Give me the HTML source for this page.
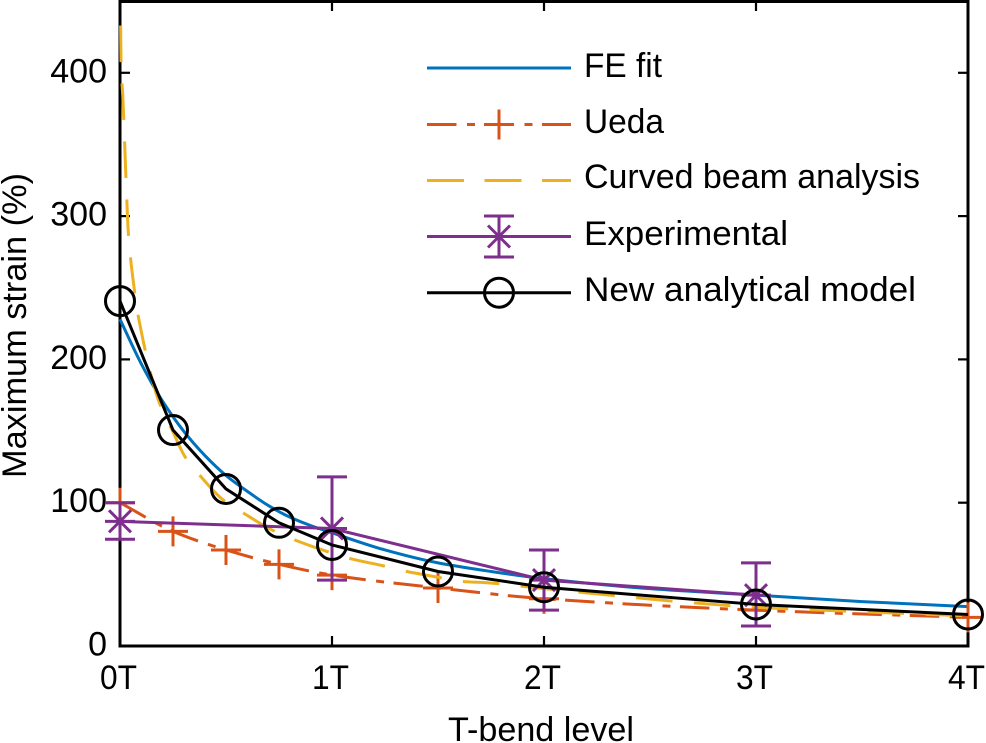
<!DOCTYPE html>
<html lang="en">
<head>
<meta charset="utf-8">
<title>Maximum strain vs T-bend level</title>
<style>
html,body{margin:0;padding:0;background:#fff;width:986px;height:743px;overflow:hidden}
svg{display:block}
text{font-family:"Liberation Sans",sans-serif;font-size:34px;fill:#000}
</style>
</head>
<body>
<svg id="chart" xmlns="http://www.w3.org/2000/svg" width="986" height="743" viewBox="0 0 986 743">
  <g id="axes"></g>
  <g id="series"></g>
  <text transform="translate(26,325.5) rotate(-90)" text-anchor="middle" textLength="305" lengthAdjust="spacingAndGlyphs">Maximum strain (%)</text>
  <text x="541" y="741" text-anchor="middle" textLength="186" lengthAdjust="spacingAndGlyphs">T-bend level</text>
  <g>
    <g>
      <line x1="427" x2="571" y1="68" y2="68" stroke="#0072BD" stroke-width="3"/>
      <text x="584" y="77" textLength="78" lengthAdjust="spacingAndGlyphs">FE fit</text>
    </g>
    <g>
      <line x1="427" x2="571" y1="124.5" y2="124.5" stroke="#D95319" stroke-width="3" stroke-dasharray="29.5 10.5 8 9.5"/>
      <path d="M484 124.5H514M499 109.5V139.5" stroke="#D95319" stroke-width="3" fill="none"/>
      <text x="584" y="133" textLength="80" lengthAdjust="spacingAndGlyphs">Ueda</text>
    </g>
    <g>
      <line x1="427" x2="571" y1="180.5" y2="180.5" stroke="#EDB120" stroke-width="3" stroke-dasharray="37 20.5"/>
      <text x="584" y="188" textLength="336" lengthAdjust="spacingAndGlyphs">Curved beam analysis</text>
    </g>
    <g>
      <line x1="427" x2="571" y1="236.5" y2="236.5" stroke="#7E2F8E" stroke-width="3"/>
      <path d="M484 216H514M484 257H514M499 216V257M488 225.500L510 247.500M510 225.500L488 247.500" stroke="#7E2F8E" stroke-width="3" fill="none"/>
      <text x="584" y="245" textLength="204" lengthAdjust="spacingAndGlyphs">Experimental</text>
    </g>
    <g>
      <line x1="427" x2="571" y1="292.700" y2="292.700" stroke="#000" stroke-width="3"/>
      <circle cx="499" cy="292.700" r="14.500" fill="none" stroke="#000" stroke-width="3"/>
      <text x="584" y="301" textLength="332" lengthAdjust="spacingAndGlyphs">New analytical model</text>
    </g>
  </g>
</svg>
<script>
const xTickValues = [0, 1, 2, 3, 4];
const xTickLabels = ["0T", "1T", "2T", "3T", "4T"];
const yTickValues = [0, 100, 200, 300, 400];
const yTickLabels = ["0", "100", "200", "300", "400"];

const feX = [0, 0.1, 0.2, 0.3, 0.4, 0.5, 0.6, 0.7, 0.8, 0.9, 1, 1.25, 1.5, 1.75, 2, 2.5, 3, 3.5, 4];
const feY = [228, 197, 171, 150, 133, 119, 108, 98, 90, 84, 79, 67, 58, 52, 47, 40, 35.5, 31, 27.5];

const uedaX = [0, 0.25, 0.5, 0.75, 1, 1.5, 2, 3, 4];
const uedaY = [100, 80, 67, 57, 49.5, 40.5, 33, 25, 20];

const curvedX = [0.003, 0.005, 0.014, 0.028, 0.04, 0.07, 0.085, 0.18, 0.245, 0.307, 0.377, 0.486, 0.58, 0.717, 0.825, 0.976, 1.085, 1.24, 1.354, 1.5, 1.618, 1.745, 2, 3, 3.4, 4];
const curvedY = [433, 407, 381, 327, 287, 246, 231, 172, 151, 132, 119, 102, 93, 81, 74, 66, 61, 56, 52, 48, 45, 44, 40, 27, 24.5, 21];

const expX = [0, 1, 2, 3];
const expY = [87, 82, 46, 35.5];
const expHigh = [100, 118, 67, 58];
const expLow = [74.5, 46, 25, 14];

const modelX = [0, 0.25, 0.5, 0.75, 1, 1.5, 2, 3, 4];
const modelY = [240.7, 150.7, 109.6, 86, 70.5, 52, 41, 29, 22];

const NS = "http://www.w3.org/2000/svg";
const sx = v => 120 + 212 * v;
const sy = v => 646 - 1.433 * v;
const axesGroup = document.getElementById("axes");
const seriesGroup = document.getElementById("series");

function make(tag, parent, attrs) {
  const el = document.createElementNS(NS, tag);
  for (const k in attrs) el.setAttribute(k, attrs[k]);
  parent.appendChild(el);
  return el;
}
function pts(xs, ys) {
  return xs.map((x, i) => sx(x).toFixed(2) + "," + sy(ys[i]).toFixed(2)).join(" ");
}
function smoothPath(xs, ys) {
  const px = xs.map(sx), py = ys.map(sy), n = px.length;
  const d = [];
  for (let i = 0; i < n - 1; i++) d.push((py[i + 1] - py[i]) / (px[i + 1] - px[i]));
  const m = [d[0]];
  for (let i = 1; i < n - 1; i++) m.push(d[i - 1] * d[i] > 0 ? 2 * d[i - 1] * d[i] / (d[i - 1] + d[i]) : 0);
  m.push(d[n - 2]);
  let out = "M" + px[0].toFixed(2) + " " + py[0].toFixed(2);
  for (let i = 0; i < n - 1; i++) {
    const h = (px[i + 1] - px[i]) / 3;
    out += "C" + (px[i] + h).toFixed(2) + " " + (py[i] + m[i] * h).toFixed(2) + " " +
      (px[i + 1] - h).toFixed(2) + " " + (py[i + 1] - m[i + 1] * h).toFixed(2) + " " +
      px[i + 1].toFixed(2) + " " + py[i + 1].toFixed(2);
  }
  return out;
}

const frame = make("rect", axesGroup, {x: 120, y: 1.5, width: 848, height: 644.5, fill: "none", stroke: "#000", "stroke-width": 3});



xTickValues.forEach((v, i) => {
  const tickB = make("line", axesGroup, {x1: sx(v), x2: sx(v), y1: 646, y2: 636, stroke: "#000", "stroke-width": 2.2});
  
  
  const tickT = make("line", axesGroup, {x1: sx(v), x2: sx(v), y1: 1.5, y2: 11, stroke: "#000", "stroke-width": 2.2});
  
  
  const label = make("text", axesGroup, {x: sx(v) - 1.5, y: 689, "text-anchor": "middle", textLength: 37, lengthAdjust: "spacingAndGlyphs"});
  label.textContent = xTickLabels[i];
  
  
});

yTickValues.forEach((v, i) => {
  const tickL = make("line", axesGroup, {x1: 120, x2: 130, y1: sy(v), y2: sy(v), stroke: "#000", "stroke-width": 2.2});
  
  
  const tickR = make("line", axesGroup, {x1: 958, x2: 968, y1: sy(v), y2: sy(v), stroke: "#000", "stroke-width": 2.2});
  
  
  const label = make("text", axesGroup, {x: 107, y: sy(v) + 9.5, "text-anchor": "end"});
  label.textContent = yTickLabels[i];
  
  
});

const feLine = make("path", seriesGroup, {d: smoothPath(feX, feY), fill: "none", stroke: "#0072BD", "stroke-width": 3});



const uedaLine = make("path", seriesGroup, {d: smoothPath(uedaX, uedaY), fill: "none", stroke: "#D95319", "stroke-width": 3, "stroke-dasharray": "29.5 10.5 8 9.5"});


uedaX.forEach((x, i) => {
  const cx = sx(x), cy = sy(uedaY[i]);
  const m = make("path", seriesGroup, {d: `M${cx - 15} ${cy}H${cx + 15}M${cx} ${cy - 15}V${cy + 15}`, fill: "none", stroke: "#D95319", "stroke-width": 3});
  
  
});

const curvedLine = make("path", seriesGroup, {d: smoothPath(curvedX, curvedY), fill: "none", stroke: "#EDB120", "stroke-width": 3, "stroke-dasharray": "36.500 21.500"});



const expLine = make("polyline", seriesGroup, {points: pts(expX, expY), fill: "none", stroke: "#7E2F8E", "stroke-width": 3});


expX.forEach((x, i) => {
  const cx = sx(x), cy = sy(expY[i]), hi = sy(expHigh[i]), lo = sy(expLow[i]);
  const bar = make("path", seriesGroup, {d: `M${cx - 15} ${hi}H${cx + 15}M${cx - 15} ${lo}H${cx + 15}M${cx} ${hi}V${lo}`, fill: "none", stroke: "#7E2F8E", "stroke-width": 3});
  
  
  const star = make("path", seriesGroup, {d: `M${cx - 11} ${cy - 11}L${cx + 11} ${cy + 11}M${cx + 11} ${cy - 11}L${cx - 11} ${cy + 11}M${cx - 15} ${cy}H${cx + 15}`, fill: "none", stroke: "#7E2F8E", "stroke-width": 3});
  
  
});

const modelLine = make("polyline", seriesGroup, {points: pts(modelX, modelY), fill: "none", stroke: "#000", "stroke-width": 3});


modelX.forEach((x, i) => {
  const c = make("circle", seriesGroup, {cx: sx(x), cy: sy(modelY[i]), r: 14.5, fill: "none", stroke: "#000", "stroke-width": 3});
  
  
});
</script>
</body>
</html>
